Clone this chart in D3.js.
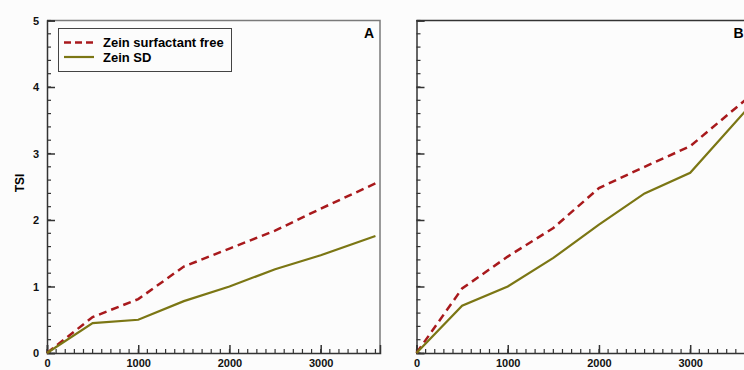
<!DOCTYPE html>
<html>
<head>
<meta charset="utf-8">
<script src="https://cdn.jsdelivr.net/npm/d3@7"></script>
<style>
  body { margin: 0; background: #fcfcfc; }
  svg { display: block; font-family: "Liberation Sans", Arial, sans-serif; }
  .tick text { font-weight: bold; font-size: 11px; fill: #111; }
</style>
</head>
<body>
<script>
// time points (s) and TSI values for both panels
var times = [0, 500, 1000, 1500, 2000, 2500, 3000, 3600];
var freeA = [0, 0.54, 0.81, 1.30, 1.57, 1.84, 2.17, 2.55];
var sdA   = [0, 0.45, 0.50, 0.78, 1.00, 1.26, 1.47, 1.76];
var freeB = [0, 0.97, 1.45, 1.88, 2.48, 2.80, 3.11, 3.80];
var sdB   = [0, 0.71, 1.00, 1.43, 1.93, 2.40, 2.71, 3.63];
var seriesNames = ["Zein surfactant free", "Zein SD"];
var panelLabels = ["A", "B"];
var yTicks = [0, 1, 2, 3, 4, 5];
var xTicks = [0, 1000, 2000, 3000];

(function(){
    var width = 744, height = 370;
    var svg = d3.select("body").append("svg")
        .attr("width", width)
        .attr("height", height);

    var top = 20.5, bottom = 353, plotW = 333;
    var colors = ["#a8191c", "#7b7614"];

    var y = d3.scaleLinear().domain([0, 5]).range([bottom, top]);

    var panels = [
        {left: 47, label: panelLabels[0], data: [freeA, sdA]},
        {left: 416.5, label: panelLabels[1], data: [freeB, sdB]}
    ];

    panels.forEach(function(p, pi){
        var x = d3.scaleLinear().domain([0, 3650]).range([p.left, p.left + plotW]);
        var g = svg.append("g");

        //frame (top and right)
        g.append("path")
            .attr("d", "M" + p.left + "," + top + "H" + (p.left + plotW) + "V" + bottom)
            .attr("fill", "none")
            .attr("stroke", pi == 0 ? "#7a7a7a" : "#333")
            .attr("stroke-width", 1.5);

        //minor ticks
        g.append("g").selectAll("line")
            .data(d3.range(0, 5.01, 0.2))
            .enter().append("line")
            .attr("x1", p.left).attr("x2", p.left + 4)
            .attr("y1", function(d){ return y(d); })
            .attr("y2", function(d){ return y(d); })
            .attr("stroke", "#333").attr("stroke-width", 1.2);
        g.append("g").selectAll("line")
            .data(d3.range(0, 3650, 100))
            .enter().append("line")
            .attr("x1", function(d){ return x(d); })
            .attr("x2", function(d){ return x(d); })
            .attr("y1", bottom).attr("y2", bottom - 4)
            .attr("stroke", "#333").attr("stroke-width", 1.2);

        //y axis
        var yAxis = d3.axisLeft(y).tickValues(yTicks).tickSize(-8).tickPadding(8)
            .tickFormat(function(d){ return pi == 0 ? d : ""; });
        g.append("g").attr("transform", "translate(" + p.left + ",0)").call(yAxis)
            .call(function(a){
                a.select(".domain").attr("stroke", "#333").attr("stroke-width", 1.5);
                a.selectAll(".tick line").attr("stroke", "#333").attr("stroke-width", 1.5);
            });

        //x axis
        var xAxis = d3.axisBottom(x).tickValues(xTicks).tickSize(-8).tickPadding(6)
            .tickFormat(d3.format("d"));
        g.append("g").attr("transform", "translate(0," + bottom + ")").call(xAxis)
            .call(function(a){
                a.select(".domain").attr("stroke", "#333").attr("stroke-width", 1.5);
                a.selectAll(".tick line").attr("stroke", "#333").attr("stroke-width", 1.5);
            });

        //lines
        var line = d3.line()
            .x(function(d, i){ return x(times[i]); })
            .y(function(d){ return y(d); });
        p.data.forEach(function(vals, si){
            g.append("path")
                .datum(vals)
                .attr("fill", "none")
                .attr("stroke", colors[si])
                .attr("stroke-width", si == 0 ? 2.5 : 2.2)
                .attr("stroke-dasharray", si == 0 ? "8,5" : null)
                .attr("d", line);
        });

        //panel label
        g.append("text")
            .attr("x", p.left + plotW - 6)
            .attr("y", 38)
            .attr("text-anchor", "end")
            .attr("font-weight", "bold")
            .attr("font-size", 14)
            .text(p.label);
    });

    //y title
    svg.append("text")
        .attr("transform", "translate(24,183) rotate(-90)")
        .attr("text-anchor", "middle")
        .attr("font-weight", "bold")
        .attr("font-size", 12)
        .text("TSI");

    //legend
    var legend = svg.append("g");
    legend.append("rect")
        .attr("x", 58.5).attr("y", 28.5)
        .attr("width", 173).attr("height", 43)
        .attr("fill", "#fcfcfc")
        .attr("stroke", "#444").attr("stroke-width", 1);
    seriesNames.forEach(function(name, i){
        var ly = 42.5 + i * 14.5;
        legend.append("line")
            .attr("x1", 64).attr("x2", 94)
            .attr("y1", ly).attr("y2", ly)
            .attr("stroke", colors[i])
            .attr("stroke-width", i == 0 ? 2.5 : 2.2)
            .attr("stroke-dasharray", i == 0 ? "7,4" : null);
        legend.append("text")
            .attr("x", 103).attr("y", ly + 4.5)
            .attr("font-weight", "bold")
            .attr("font-size", 13)
            .text(name);
    });
})();
</script>
</body>
</html>
